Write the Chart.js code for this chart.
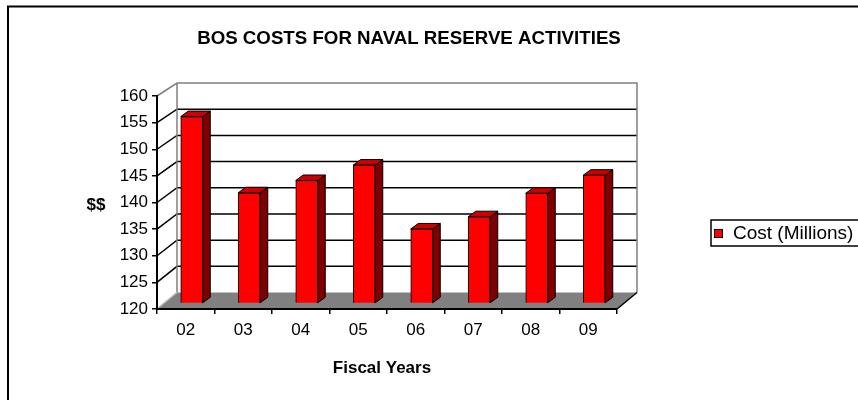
<!DOCTYPE html>
<html lang="en">
<head>
<meta charset="UTF-8">
<title>BOS Costs for Naval Reserve Activities</title>
<script src="https://cdn.jsdelivr.net/npm/chart.js"></script>
<style>
  body { margin: 0; background: #fff; }
</style>
</head>
<body>
<canvas id="myChart" width="858" height="400"></canvas>
<script>
// BOS cost per fiscal year, millions of dollars
const fiscalYears = ['02', '03', '04', '05', '06', '07', '08', '09'];
const costMillions = [155.1, 140.8, 143.1, 146.0, 134.0, 136.3, 140.7, 144.1];
const yTicks = [120, 125, 130, 135, 140, 145, 150, 155, 160];

const FONT = "'Liberation Sans', Arial, sans-serif";
const DEPTH_X = 20;          // back wall sits this far right of the front axis
const BACK_TOP = -13;        // back wall top / bottom relative to front plane
const BACK_BOTTOM = -16.5;
const BAR_SHIFT_X = 6;       // bars stand a little behind the front axis
const BAR_SHIFT_Y = -5.5;
const BAR_DX = 7.5;          // depth of each column
const BAR_DY = -5.5;

// map a front-plane pixel y onto the back wall
function backY(a, y) {
  const top = a.top + BACK_TOP, bottom = a.bottom + BACK_BOTTOM;
  return top + (y - a.top) * (bottom - top) / (a.bottom - a.top);
}

const excel3d = {
  id: 'excel3d',
  beforeDraw(chart) {
    const { ctx, chartArea: a } = chart;
    const y = chart.scales.y;
    ctx.save();
    ctx.fillStyle = '#fff';
    ctx.fillRect(0, 0, chart.width, chart.height);

    // outer frame (runs off the right and bottom)
    ctx.strokeStyle = '#000';
    ctx.lineWidth = 2;
    ctx.strokeRect(8, 6.5, chart.width + 20, chart.height + 20);

    const bl = a.left + DEPTH_X, br = a.right + DEPTH_X;
    const bt = a.top + BACK_TOP, bb = a.bottom + BACK_BOTTOM;

    // floor
    ctx.fillStyle = '#808080';
    ctx.beginPath();
    ctx.moveTo(a.left, a.bottom);
    ctx.lineTo(a.right, a.bottom);
    ctx.lineTo(br, bb);
    ctx.lineTo(bl, bb);
    ctx.closePath();
    ctx.fill();

    // gridlines: diagonal on the side wall, then across the back wall
    ctx.lineWidth = 1.5;
    ctx.strokeStyle = '#000';
    yTicks.slice(1, -1).forEach(v => {
      const yf = y.getPixelForValue(v), yb = backY(a, yf);
      ctx.beginPath();
      ctx.moveTo(a.left, yf);
      ctx.lineTo(bl, yb);
      ctx.lineTo(br, yb);
      ctx.stroke();
    });

    // wall edges
    ctx.strokeStyle = '#808080';
    ctx.beginPath();
    ctx.moveTo(a.left, a.top);
    ctx.lineTo(bl, bt);
    ctx.lineTo(br, bt);
    ctx.lineTo(br, bb);
    ctx.moveTo(bl, bt);
    ctx.lineTo(bl, bb);
    ctx.stroke();
    ctx.strokeStyle = '#b4b4b4';
    ctx.beginPath();
    ctx.moveTo(a.left, a.bottom);
    ctx.lineTo(bl, bb);
    ctx.stroke();
    ctx.strokeStyle = '#000';
    ctx.beginPath();
    ctx.moveTo(a.right, a.bottom);
    ctx.lineTo(br, bb);
    ctx.stroke();
    ctx.restore();
  },
  beforeDatasetsDraw(chart) {
    chart.ctx.save();
    chart.ctx.translate(BAR_SHIFT_X, BAR_SHIFT_Y);
  },
  afterDatasetsDraw(chart) {
    const ctx = chart.ctx;
    ctx.lineWidth = 1;
    ctx.strokeStyle = '#000';
    ctx.lineJoin = 'round';
    chart.getDatasetMeta(0).data.forEach(bar => {
      const l = bar.x - bar.width / 2, r = bar.x + bar.width / 2;
      const t = bar.y, b = bar.base;
      // right side
      ctx.fillStyle = '#800000';
      ctx.beginPath();
      ctx.moveTo(r, t);
      ctx.lineTo(r + BAR_DX, t + BAR_DY);
      ctx.lineTo(r + BAR_DX, b + BAR_DY);
      ctx.lineTo(r, b);
      ctx.closePath();
      ctx.fill();
      ctx.stroke();
      // top
      ctx.fillStyle = '#cc0000';
      ctx.beginPath();
      ctx.moveTo(l, t);
      ctx.lineTo(l + BAR_DX, t + BAR_DY);
      ctx.lineTo(r + BAR_DX, t + BAR_DY);
      ctx.lineTo(r, t);
      ctx.closePath();
      ctx.fill();
      ctx.stroke();
    });
    ctx.restore();
  },
  afterDraw(chart) {
    const ctx = chart.ctx;
    ctx.save();
    ctx.fillStyle = '#000';
    ctx.textAlign = 'center';
    ctx.textBaseline = 'alphabetic';
    ctx.font = 'bold 18.7px ' + FONT;
    ctx.fillText('BOS COSTS FOR NAVAL RESERVE ACTIVITIES', 409, 44);
    ctx.font = 'bold 17px ' + FONT;
    ctx.fillText('Fiscal Years', 382, 373);
    ctx.textBaseline = 'middle';
    ctx.fillText('$$', 96, 205);

    // legend
    ctx.lineWidth = 1.5;
    ctx.strokeStyle = '#000';
    ctx.strokeRect(711, 220, 200, 26);
    ctx.fillStyle = '#ff0000';
    ctx.fillRect(714, 229, 8, 8);
    ctx.lineWidth = 1;
    ctx.strokeRect(714.5, 229.5, 8, 8);
    ctx.fillStyle = '#000';
    ctx.textAlign = 'left';
    ctx.font = '19px ' + FONT;
    ctx.fillText('Cost (Millions)', 733, 234);
    ctx.restore();
  }
};

new Chart(document.getElementById('myChart'), {
  type: 'bar',
  data: {
    labels: fiscalYears,
    datasets: [{
      label: 'Cost (Millions)',
      data: costMillions,
      base: 120,
      backgroundColor: '#ff0000',
      borderColor: '#000',
      borderWidth: 1,
      barThickness: 22
    }]
  },
  options: {
    responsive: false,
    animation: false,
    layout: { padding: { left: 0, top: 96, right: 241, bottom: 0 } },
    plugins: {
      legend: { display: false },
      title: { display: false },
      tooltip: { enabled: false }
    },
    scales: {
      x: {
        afterFit(s) { s.height = 91; },
        grid: { drawOnChartArea: false, drawTicks: true, tickLength: 5, color: '#000', lineWidth: 1.5 },
        border: { display: true, color: '#000', width: 2 },
        ticks: { color: '#000', font: { family: FONT, size: 17 }, padding: 6 }
      },
      y: {
        min: 120,
        max: 160,
        afterFit(s) { s.width = 157; },
        afterBuildTicks(s) { s.ticks = yTicks.map(v => ({ value: v })); },
        grid: { drawOnChartArea: false, drawTicks: true, tickLength: 5, color: '#000', lineWidth: 1.5 },
        border: { display: true, color: '#000', width: 2 },
        ticks: { color: '#000', font: { family: FONT, size: 17 }, padding: 4 }
      }
    }
  },
  plugins: [excel3d]
});
</script>
</body>
</html>
